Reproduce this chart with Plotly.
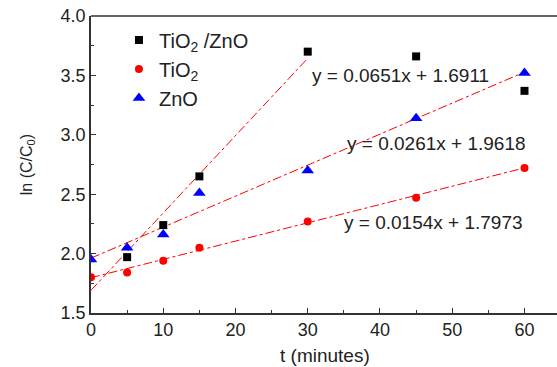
import plotly.graph_objects as go

t = [0, 5, 10, 15, 30, 45, 60]
tio2_zno = [None, 1.97, 2.24, 2.65, 3.70, 3.66, 3.37]
tio2 = [1.80, 1.84, 1.94, 2.05, 2.27, 2.47, 2.72]
zno = [1.95, 2.05, 2.16, 2.51, 2.70, 3.14, 3.52]

fits = [  # slope, intercept, x-end, label
    (0.0651, 1.6911, 30, "y = 0.0651x + 1.6911"),
    (0.0261, 1.9618, 60, "y = 0.0261x + 1.9618"),
    (0.0154, 1.7973, 60, "y = 0.0154x + 1.7973"),
]
label_pos = [(42.8, 3.50), (47.8, 2.93), (47.4, 2.26)]

x_title = "t (minutes)"
y_title = "ln (C/C<sub>0</sub>)"

FONT = "Arial, Liberation Sans, sans-serif"
fig = go.Figure()

for m, b, xe, _ in fits:
    fig.add_trace(go.Scatter(x=[0, xe], y=[b, m * xe + b], mode="lines",
                             line=dict(color="red", width=1, dash="dashdot"),
                             showlegend=False, hoverinfo="skip"))

fig.add_trace(go.Scatter(x=t, y=tio2_zno, mode="markers", name="TiO<sub>2</sub> /ZnO",
                         marker=dict(symbol="square", color="black", size=8)))
fig.add_trace(go.Scatter(x=t, y=tio2, mode="markers", name="TiO<sub>2</sub>",
                         marker=dict(symbol="circle", color="red", size=8)))
fig.add_trace(go.Scatter(x=t, y=zno, mode="markers", name="ZnO",
                         marker=dict(symbol="triangle-up", color="blue", size=11)))

for (m, b, xe, lab), (px, py) in zip(fits, label_pos):
    fig.add_annotation(x=px, y=py, text=lab, showarrow=False,
                       font=dict(family=FONT, size=19, color="#222"))

fig.add_annotation(xref="paper", yref="paper", x=0.502, y=-0.143, text=x_title,
                   xanchor="center", yanchor="middle",
                   showarrow=False, font=dict(family=FONT, size=19, color="#222"))
fig.add_annotation(xref="paper", yref="paper", x=-0.137, y=0.498, text=y_title,
                   xanchor="center", yanchor="middle",
                   textangle=-90, showarrow=False, font=dict(family=FONT, size=16, color="#222"))

fig.add_shape(type="line", xref="paper", yref="paper", x0=0, x1=1, y0=1, y1=1,
              line=dict(color="#333", width=1.5))

fig.update_layout(
    width=557, height=367,
    margin=dict(l=91, r=0, t=16, b=54),
    paper_bgcolor="white", plot_bgcolor="white",
    font=dict(family=FONT, color="#222"),
    legend=dict(x=0.06, y=0.985, xanchor="left", yanchor="top",
                bgcolor="rgba(0,0,0,0)", font=dict(size=20), tracegroupgap=0),
    xaxis=dict(range=[0, 64.5], tickvals=[0, 10, 20, 30, 40, 50, 60],
               ticks="inside", ticklen=5, tickcolor="#333",
               minor=dict(tickvals=[5, 15, 25, 35, 45, 55], ticks="inside", ticklen=3, tickcolor="#333"),
               showline=True, linecolor="#333", linewidth=1.5, showgrid=False, zeroline=False,
               automargin=False, tickfont=dict(size=18)),
    yaxis=dict(range=[1.5, 4.0], tickvals=[1.5, 2.0, 2.5, 3.0, 3.5, 4.0], tickformat=".1f",
               ticks="inside", ticklen=5, tickcolor="#333",
               minor=dict(tickvals=[1.75, 2.25, 2.75, 3.25, 3.75], ticks="inside", ticklen=3, tickcolor="#333"),
               showline=True, linecolor="#333", linewidth=1.5, showgrid=False, zeroline=False,
               automargin=False, tickfont=dict(size=18)),
)

fig.write_html("out.html", config={"displayModeBar": False},
               post_script="document.body.style.margin='0';")
